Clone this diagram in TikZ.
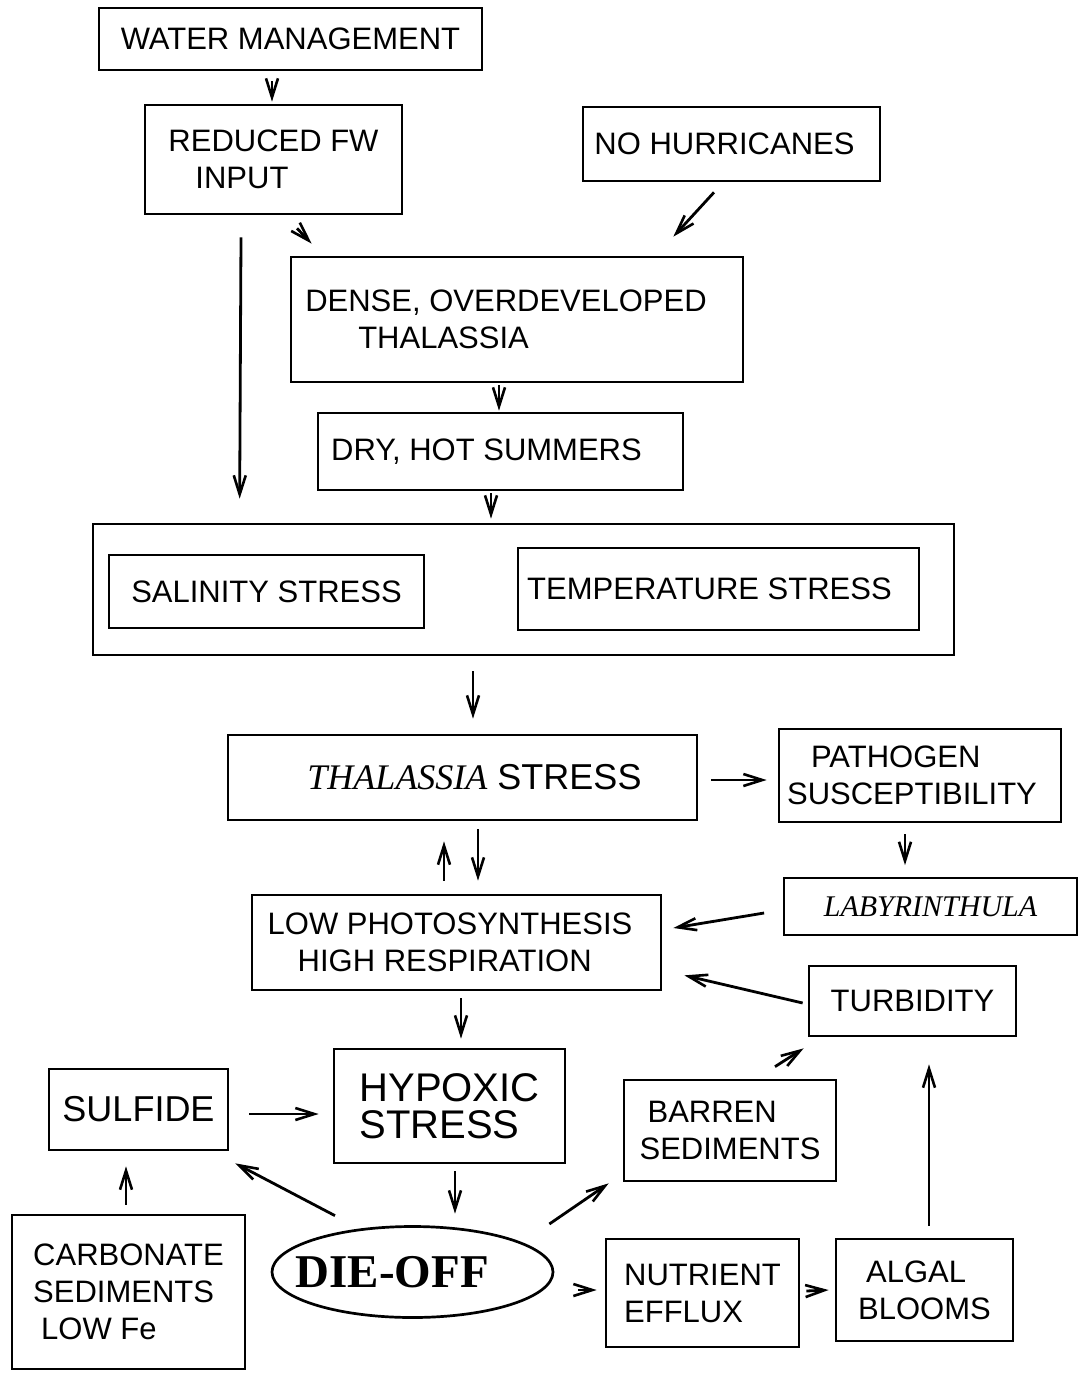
\documentclass[tikz,border=0pt]{standalone}
\usepackage{fontspec}
\setmainfont{Liberation Sans}
\newfontfamily\timesfont{Liberation Serif}
\usetikzlibrary{arrows.meta,shapes.geometric}

\begin{document}
\begin{tikzpicture}[x=1pt, y=-1pt,
        every node/.style={draw, line width=2.7pt, inner sep=0pt, align=left, font=\fontsize{31}{37}\selectfont},
        arr/.style={line width=2.8pt, -{Straight Barb[length=19pt,width=12pt,line width=2.6pt]}}
      ]
        \useasboundingbox (0,0) rectangle (1078,1374);
        % top of the chain
        \node[minimum width=383pt, minimum height=62pt] (water) at (290.5,39) {WATER MANAGEMENT};
        \node[minimum width=257pt, minimum height=109pt] (reduced) at (273.5,159.5) {REDUCED FW\\\hspace*{27pt}INPUT};
        \node[minimum width=297pt, minimum height=74pt] (hurricanes) at (731.5,144) {NO HURRICANES\hspace*{14pt}};
        \node[minimum width=452pt, minimum height=125pt] (dense) at (517,319.5) {DENSE, OVERDEVELOPED\hspace*{22pt}\\\hspace*{53pt}THALASSIA};
        \node[minimum width=365pt, minimum height=77pt] (dry) at (500.5,451.5) {DRY, HOT SUMMERS\hspace*{28pt}};
        \node[minimum width=861pt, minimum height=131pt] (stressbox) at (523.5,589.5) {};
        \node[minimum width=315pt, minimum height=73pt] (salinity) at (266.5,591.5) {SALINITY STRESS};
        \node[minimum width=401pt, minimum height=82pt] (temperature) at (718.5,589) {TEMPERATURE STRESS\hspace*{18pt}};

        % middle
        \node[minimum width=469pt, minimum height=85pt, font=\fontsize{36}{40}\selectfont] (thalstress) at (462.5,777.5) {\hspace*{24pt}{\timesfont\itshape THALASSIA} STRESS};
        \node[minimum width=282pt, minimum height=93pt] (pathogen) at (920,775.5) {\hspace*{24pt}PATHOGEN\\SUSCEPTIBILITY\hspace*{16pt}};
        \node[minimum width=293pt, minimum height=57pt, line width=1.8pt, font=\timesfont\itshape\fontsize{30}{37}\selectfont] (laby) at (930.5,906.5) {LABYRINTHULA};
        \node[minimum width=409pt, minimum height=95pt] (lowphoto) at (456.5,942.5) {LOW PHOTOSYNTHESIS\hspace*{13pt}\\\hspace*{30pt}HIGH RESPIRATION};
        \node[minimum width=207pt, minimum height=70pt] (turbidity) at (912.5,1001) {TURBIDITY};

        % bottom
        \node[minimum width=231pt, minimum height=114pt, font=\fontsize{40}{37}\selectfont] (hypoxic) at (449.5,1106) {HYPOXIC\\STRESS};
        \node[minimum width=179pt, minimum height=81pt, font=\fontsize{36}{40}\selectfont] (sulfide) at (138.5,1109.5) {SULFIDE};
        \node[minimum width=212pt, minimum height=101pt] (barren) at (730,1130.5) {\hspace*{8pt}BARREN\\SEDIMENTS};
        \node[minimum width=233pt, minimum height=154pt] (carbonate) at (128.5,1292) {CARBONATE\\SEDIMENTS\\\hspace*{8pt}LOW Fe};
        \node[ellipse, minimum width=281pt, minimum height=91pt, font=\timesfont\bfseries\fontsize{47}{50}\selectfont] (dieoff) at (412.5,1272) {\makebox[190pt][l]{\hspace*{-22pt}DIE-OFF}};
        \node[minimum width=193pt, minimum height=108pt] (nutrient) at (702.5,1293) {NUTRIENT\\EFFLUX};
        \node[minimum width=177pt, minimum height=102pt] (algal) at (924.5,1290) {\hspace*{8pt}ALGAL\\BLOOMS};

        % arrows
        \draw[arr] ([xshift=-18.5pt,yshift=-10pt]water.south) -- ([xshift=-1.5pt,yshift=2pt]reduced.north);
        \draw[arr] ([xshift=23.5pt,yshift=-13pt]reduced.south) -- ([xshift=22pt,yshift=12pt]dense.north west);
        \draw[arr] ([xshift=-17.5pt,yshift=-10pt]hurricanes.south) -- ([xshift=-71pt,yshift=19pt]dense.north east);
        \draw[arr] ([xshift=-32.5pt,yshift=-22pt]reduced.south) -- ([xshift=148pt,yshift=24pt]stressbox.north west);
        \draw[arr] ([xshift=-18pt,yshift=-2pt]dense.south) -- ([xshift=-1.5pt,yshift=1pt]dry.north);
        \draw[arr] ([xshift=-9.5pt,yshift=-2pt]dry.south) -- ([xshift=-32.5pt,yshift=4pt]stressbox.north);
        \draw[arr] ([xshift=-50.5pt,yshift=-15pt]stressbox.south) -- ([xshift=10.5pt,yshift=15pt]thalstress.north);
        \draw[arr] ([xshift=13pt,yshift=-2.5pt]thalstress.east) -- ([xshift=-11pt,yshift=-4.5pt]pathogen.west);
        \draw[arr] ([xshift=15.5pt,yshift=-8pt]thalstress.south) -- ([xshift=21.5pt,yshift=13pt]lowphoto.north);
        \draw[arr] ([xshift=-12.5pt,yshift=13pt]lowphoto.north) -- ([xshift=-18.5pt,yshift=-20pt]thalstress.south);
        \draw[arr] ([xshift=-15pt,yshift=-11pt]pathogen.south) -- ([xshift=-25.5pt,yshift=12pt]laby.north);
        \draw[arr] ([xshift=-19pt,yshift=-6.5pt]laby.west) -- ([xshift=11pt,yshift=14.5pt]lowphoto.east);
        \draw[arr] ([xshift=-5pt,yshift=-2pt]turbidity.west) -- ([xshift=22pt,yshift=16pt]lowphoto.south east);
        \draw[arr] ([xshift=4.5pt,yshift=-7pt]lowphoto.south) -- ([xshift=11.5pt,yshift=9pt]hypoxic.north);
        \draw[arr] ([xshift=20pt,yshift=-4.5pt]sulfide.east) -- ([xshift=-14pt,yshift=-8pt]hypoxic.west);
        \draw[arr] ([xshift=-2.5pt,yshift=9pt]carbonate.north) -- ([xshift=-12.5pt,yshift=-15pt]sulfide.south);
        \draw[arr] ([xshift=5.5pt,yshift=-7pt]hypoxic.south) -- ([xshift=42.5pt,yshift=11.5pt]dieoff.north);
        \draw[arr] ([xshift=-77.5pt,yshift=9.5pt]dieoff.north) -- ([xshift=6pt,yshift=-12pt]sulfide.south east);
        \draw[arr] ([xshift=-5pt,yshift=48pt]dieoff.east) -- ([xshift=-14pt,yshift=-1pt]barren.south west);
        \draw[arr] ([xshift=45pt,yshift=12pt]barren.north) -- ([xshift=-4pt,yshift=-11pt]turbidity.south west);
        \draw[arr] ([xshift=24pt,yshift=-18pt]dieoff.east) -- ([xshift=-8pt,yshift=3pt]nutrient.west);
        \draw[arr] ([xshift=6pt,yshift=2pt]nutrient.east) -- ([xshift=-6pt]algal.west);
        \draw[arr] ([xshift=4.5pt,yshift=12pt]algal.north) -- ([xshift=16.5pt,yshift=-27pt]turbidity.south);
      \end{tikzpicture}
\end{document}
